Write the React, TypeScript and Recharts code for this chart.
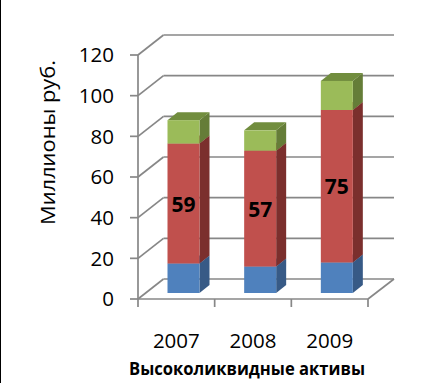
import React from 'react';
import { BarChart, Bar, XAxis, YAxis, CartesianGrid, LabelList, Label } from 'recharts';

const years = ['2007', '2008', '2009'];
const blueValues = [14.5, 13, 15];
const redValues = [59, 57, 75];
const greenValues = [11.5, 10, 14.3];
const yTicks = [0, 20, 40, 60, 80, 100, 120];
const yTitle = 'Миллионы руб.';
const xTitle = 'Высоколиквидные активы';

const data = years.map((year, i) => ({
  year,
  s1: blueValues[i],
  s2: redValues[i],
  s3: greenValues[i],
}));

// layout constants
const W = 423;
const H = 383;
const PL = 138;
const PR = 368;
const PT = 55;
const PB = 299;
const WALL_DX = 25.5;
const WALL_DY = 20;
const BAR_OX = 7.5;
const BAR_OY = -6;
const BAR_DX = 10;
const BAR_DY = 8;
const GRAY = '#878787';
const SW = 1.7;
const FONT = '"Open Sans", sans-serif';

const makeBox = (front: string, side: string, top: string) => (props: any) => {
  const { x, y, width, height } = props;
  if (height == null || width == null) return <g />;
  const fx = x + BAR_OX;
  const fy = y + BAR_OY;
  const w = width;
  const h = height;
  return (
    <g>
      <polygon
        points={`${fx + w},${fy} ${fx + w + BAR_DX},${fy - BAR_DY} ${fx + w + BAR_DX},${fy + h - BAR_DY} ${fx + w},${fy + h}`}
        fill={side}
      />
      <polygon
        points={`${fx},${fy} ${fx + BAR_DX},${fy - BAR_DY} ${fx + w + BAR_DX},${fy - BAR_DY} ${fx + w},${fy}`}
        fill={top}
      />
      <rect x={fx} y={fy} width={w} height={h} fill={front} />
    </g>
  );
};

const BlueBox = makeBox('#4F81BD', '#375A86', '#4570A3');
const RedBox = makeBox('#C0504D', '#7B2F2D', '#9C3F3C');
const GreenBox = makeBox('#9BBB59', '#657D38', '#718D3E');

const gridLine = (props: any) => {
  const { x1, y1, x2, index } = props;
  const bx = x1 + WALL_DX;
  const by = y1 - WALL_DY;
  const isBottom = y1 >= PB - 1;
  return (
    <g key={`g-${index}-${y1}`}>
      <line x1={x1} y1={y1} x2={bx} y2={by} stroke={GRAY} strokeWidth={SW} />
      <line x1={bx} y1={by} x2={x2 + WALL_DX + 0.5} y2={by} stroke={GRAY} strokeWidth={SW} />
      {isBottom && (
        <line x1={x2} y1={y1} x2={x2 + WALL_DX + 0.5} y2={by} stroke={GRAY} strokeWidth={SW} />
      )}
    </g>
  );
};

const band = (PR - PL) / years.length;

const XTick = (props: any) => {
  const { x, payload, index } = props;
  const left = x - band / 2;
  return (
    <g>
      <line x1={left} y1={PB} x2={left} y2={PB + 8} stroke={GRAY} strokeWidth={SW} />
      {index === years.length - 1 && (
        <line x1={x + band / 2} y1={PB} x2={x + band / 2} y2={PB + 8} stroke={GRAY} strokeWidth={SW} />
      )}
      <text x={x} y={PB + 49} textAnchor="middle" fontSize={20.5} fontFamily={FONT} fill="#000">
        {payload.value}
      </text>
    </g>
  );
};

const RedLabel = (props: any) => {
  const { x, y, width, height, value } = props;
  return (
    <text
      x={x + BAR_OX + width / 2}
      y={y + BAR_OY + height / 2}
      textAnchor="middle"
      dominantBaseline="central"
      fontSize={21}
      fontWeight="bold"
      fontFamily={FONT}
      fill="#000"
    >
      {value}
    </text>
  );
};

export default function App() {
  return (
    <div style={{ position: 'absolute', left: 0, top: 0, width: W, height: H, background: '#fff' }}>
      <div style={{ position: 'absolute', left: 0, top: 0, width: 1.3, height: H, background: '#000' }} />
      <BarChart
        width={W}
        height={H}
        data={data}
        margin={{ top: PT, right: W - PR, bottom: 0, left: 0 }}
        barSize={32}
      >
        <CartesianGrid vertical={false} horizontal={gridLine} stroke={GRAY} />
        <YAxis
          width={PL}
          domain={[0, 120]}
          ticks={yTicks}
          interval={0}
          axisLine={{ stroke: GRAY, strokeWidth: SW }}
          tickLine={{ stroke: GRAY, strokeWidth: SW }}
          tickSize={8}
          tickMargin={16}
          tick={{ fontSize: 20.5, fontFamily: FONT, fill: '#000' }}
        >
          <Label
            content={() => (
              <text
                x={55}
                y={142.5}
                transform="rotate(-90 55 142.5)"
                textAnchor="middle"
                fontSize={20.5}
                fontFamily={FONT}
                fill="#000"
                textLength={165}
                lengthAdjust="spacingAndGlyphs"
              >
                {yTitle}
              </text>
            )}
          />
        </YAxis>
        <XAxis
          dataKey="year"
          height={H - PB}
          axisLine={{ stroke: GRAY, strokeWidth: SW }}
          tickLine={false}
          tick={<XTick />}
          interval={0}
        >
          <Label
            content={() => (
              <text
                x={247}
                y={375}
                textAnchor="middle"
                fontSize={18.5}
                fontWeight="bold"
                fontFamily={FONT}
                fill="#000"
                textLength={236}
                lengthAdjust="spacingAndGlyphs"
              >
                {xTitle}
              </text>
            )}
          />
        </XAxis>
        <Bar dataKey="s1" stackId="a" shape={BlueBox} isAnimationActive={false} />
        <Bar dataKey="s2" stackId="a" shape={RedBox} isAnimationActive={false}>
          <LabelList dataKey="s2" content={RedLabel} />
        </Bar>
        <Bar dataKey="s3" stackId="a" shape={GreenBox} isAnimationActive={false} />
      </BarChart>
    </div>
  );
}
